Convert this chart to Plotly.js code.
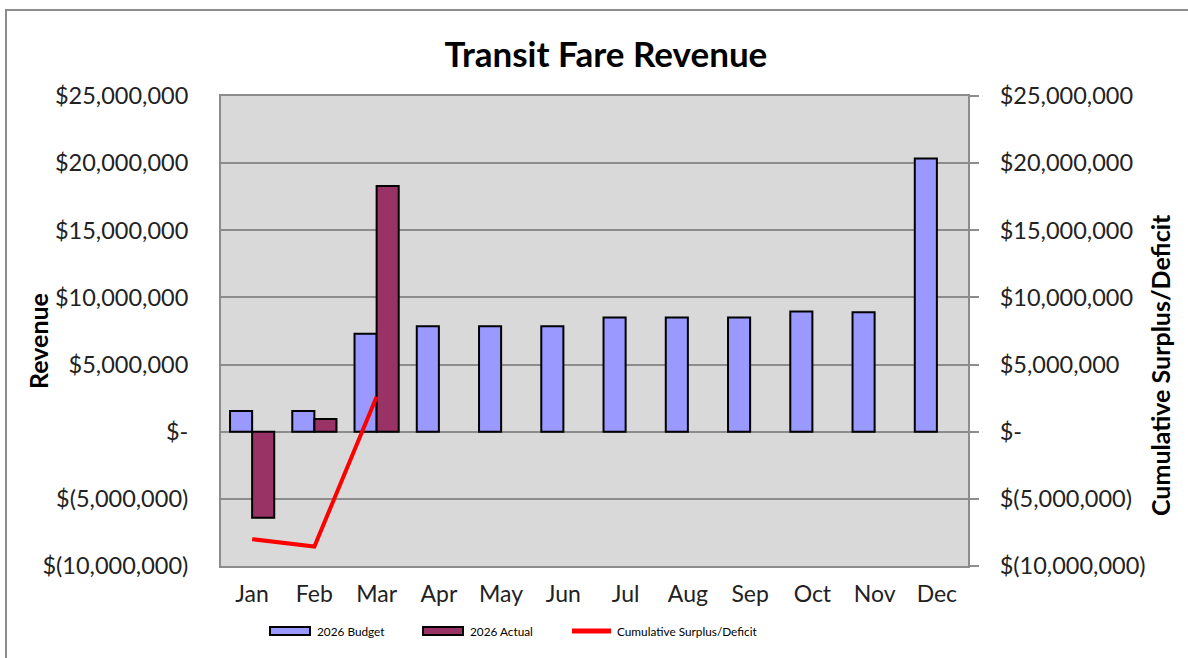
<!DOCTYPE html>
<html><head><meta charset="utf-8">
<script src="https://cdn.plot.ly/plotly-3.0.1.min.js"></script>
<style>html,body{margin:0;padding:0;background:#fff}#chart{width:1188px;height:658px}</style>
</head><body><div id="chart"></div>
<script>
const months = ["Jan","Feb","Mar","Apr","May","Jun","Jul","Aug","Sep","Oct","Nov","Dec"];
const budget2026 = [1550000,1550000,7300000,7850000,7850000,7850000,8500000,8500000,8500000,8950000,8900000,20350000];
const actual2026 = [-6400000,950000,18300000,null,null,null,null,null,null,null,null,null];
const cumulative = [-8000000,-8550000,2600000];
const cumMonths = ["Jan","Feb","Mar"];
const tickVals = [-10000000,-5000000,0,5000000,10000000,15000000,20000000,25000000];
const tickText = ["$(10,000,000)","$(5,000,000)","$-","$5,000,000","$10,000,000","$15,000,000","$20,000,000","$25,000,000"];
const seriesNames = ["2026 Budget","2026 Actual","Cumulative Surplus/Deficit"];
const seriesColors = ["#9999ff","#993366","#ff0000"];

const fontFam = "Lato, 'Open Sans', sans-serif";
const traces = [
  {type:"bar", name:seriesNames[0], x:months, y:budget2026,
   marker:{color:seriesColors[0], line:{color:"#000", width:2}}},
  {type:"bar", name:seriesNames[1], x:months, y:actual2026,
   marker:{color:seriesColors[1], line:{color:"#000", width:2}}},
  {type:"scatter", mode:"lines", name:seriesNames[2], x:cumMonths, y:cumulative,
   yaxis:"y2", line:{color:seriesColors[2], width:4}}
];

// plot area pixel frame -> paper coords helpers (layout only)
const PL = 221, PW = 747, PB = 566, PH = 470;
const px = v => (v - PL) / PW;
const py = v => (PB - v) / PH;

// custom legend (Excel-style wide swatches)
const legX = [270, 423, 570];
const legY = 631;
const legendShapes = [
  {type:"rect", xref:"paper", yref:"paper", x0:px(legX[0]), x1:px(legX[0]+40), y0:py(legY+4), y1:py(legY-4),
   fillcolor:seriesColors[0], line:{color:"#000", width:2}},
  {type:"rect", xref:"paper", yref:"paper", x0:px(legX[1]), x1:px(legX[1]+40), y0:py(legY+4), y1:py(legY-4),
   fillcolor:seriesColors[1], line:{color:"#000", width:2}},
  {type:"line", xref:"paper", yref:"paper", x0:px(legX[2]+2), x1:px(legX[2]+41), y0:py(legY), y1:py(legY),
   line:{color:seriesColors[2], width:5}}
];
const legendTexts = seriesNames.map((n, i) => ({
  text:n, xref:"paper", yref:"paper", x:px(legX[i] + 45), y:py(legY), xanchor:"left", yanchor:"middle",
  showarrow:false, font:{size:11.8, color:"#000"}
}));

const layout = {
  width:1188, height:658,
  margin:{l:221, r:220, t:96, b:92},
  paper_bgcolor:"#ffffff", plot_bgcolor:"#d9d9d9",
  font:{family:fontFam, color:"#222", size:24},
  title:{text:"<b>Transit Fare Revenue</b>", font:{size:35, color:"#000", family:fontFam}, x:0.510, xanchor:"center", y:0.917, yanchor:"middle"},
  barmode:"group", bargap:0.29, bargroupgap:0,
  showlegend:false,
  xaxis:{type:"category", showgrid:false, showline:true, linecolor:"#8c8c8c", linewidth:2, mirror:true, ticks:"", tickfont:{size:23, color:"#222"}, ticklabelstandoff:6},
  yaxis:{range:[-10000000,25000000], tickvals:tickVals, ticktext:tickText, showgrid:true, gridcolor:"#8c8c8c", gridwidth:2,
         zeroline:true, zerolinecolor:"#8c8c8c", zerolinewidth:2, showline:true, linecolor:"#8c8c8c", linewidth:2, ticks:"",
         tickfont:{size:23.5, color:"#222"}, ticklabelstandoff:26},
  yaxis2:{range:[-10000000,25000000], overlaying:"y", side:"right", tickvals:tickVals, ticktext:tickText, showgrid:false, zeroline:false,
          showline:true, linecolor:"#8c8c8c", linewidth:2, ticks:"outside", ticklen:9, tickwidth:2, tickcolor:"#8c8c8c",
          tickfont:{size:23.5, color:"#222"}, ticklabelstandoff:16},
  annotations:[
    {text:"<b>Revenue</b>", xref:"paper", yref:"paper", x:px(38), y:py(341), xanchor:"center", yanchor:"middle",
     textangle:-90, showarrow:false, font:{size:25, color:"#000"}},
    {text:"<b>Cumulative Surplus/Deficit</b>", xref:"paper", yref:"paper", x:px(1160), y:py(365), xanchor:"center", yanchor:"middle",
     textangle:-90, showarrow:false, font:{size:25, color:"#000"}}
  ].concat(legendTexts),
  shapes:[{type:"rect", xref:"paper", yref:"paper", x0:px(6), x1:px(1200), y0:py(670), y1:py(10),
           line:{color:"#8c8c8c", width:2}, fillcolor:"rgba(0,0,0,0)", layer:"below"}].concat(legendShapes)
};
Plotly.newPlot("chart", traces, layout, {displayModeBar:false, staticPlot:true});
</script></body></html>
